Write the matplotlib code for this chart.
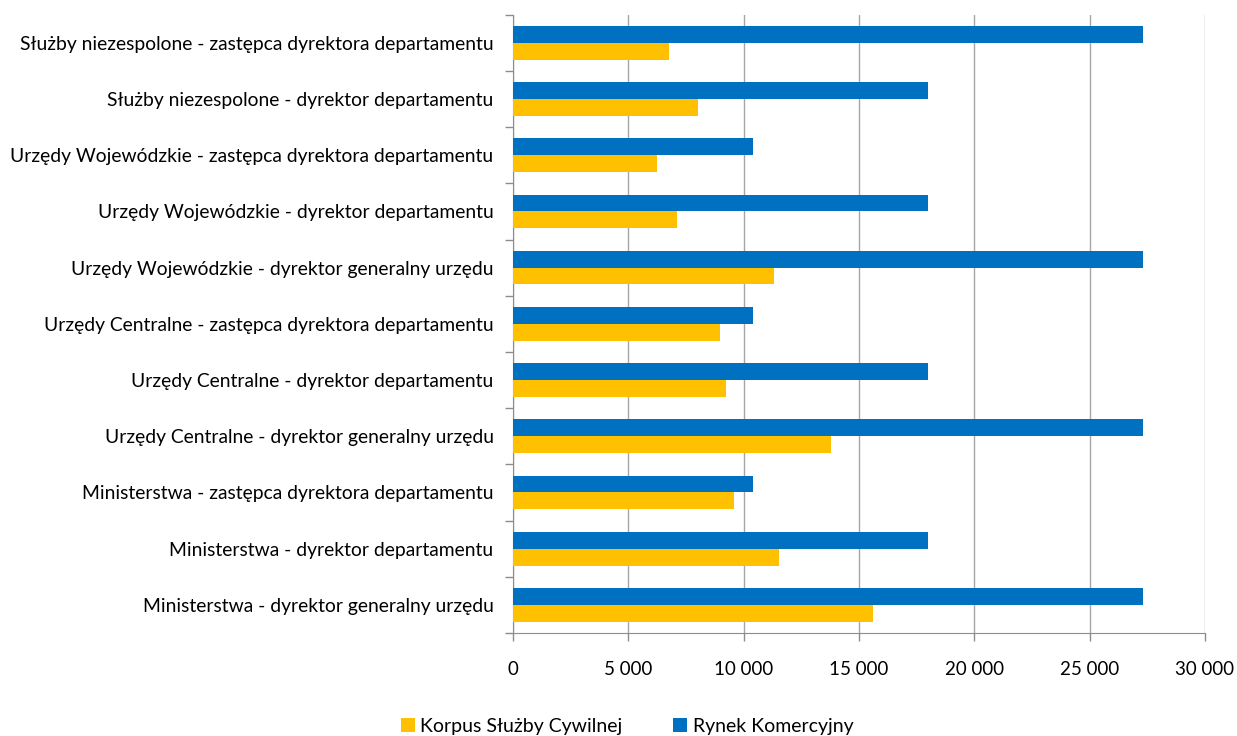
import numpy as np
import matplotlib.pyplot as plt
from matplotlib.ticker import FuncFormatter, FixedLocator

# categories from top to bottom, as in the chart
categories = [
    'Służby niezespolone - zastępca dyrektora departamentu',
    'Służby niezespolone - dyrektor departamentu',
    'Urzędy Wojewódzkie - zastępca dyrektora departamentu',
    'Urzędy Wojewódzkie - dyrektor departamentu',
    'Urzędy Wojewódzkie - dyrektor generalny urzędu',
    'Urzędy Centralne - zastępca dyrektora departamentu',
    'Urzędy Centralne - dyrektor departamentu',
    'Urzędy Centralne - dyrektor generalny urzędu',
    'Ministerstwa - zastępca dyrektora departamentu',
    'Ministerstwa - dyrektor departamentu',
    'Ministerstwa - dyrektor generalny urzędu',
]
korpus = [6770, 8020, 6240, 7110, 11320, 8980, 9240, 13790, 9580, 11540, 15610]
rynek = [27300, 18000, 10400, 18000, 27300, 10400, 18000, 27300, 10400, 18000, 27300]

plt.rcParams['font.family'] = ['Lato', 'DejaVu Sans']

fig = plt.figure(figsize=(12.37, 7.36), dpi=100)
ax = fig.add_axes([0.4147, 0.140, 0.5594, 0.840])

y = np.arange(len(categories))
h = 0.30
ax.barh(y - h / 2, rynek, height=h, color='#0070C0', label='Rynek Komercyjny', zorder=3)
ax.barh(y + h / 2, korpus, height=h, color='#FFC000', label='Korpus Służby Cywilnej', zorder=3)

ax.set_ylim(len(categories) - 0.5, -0.5)
ax.set_xlim(0, 30000)
ax.set_xticks(range(0, 30001, 5000))
ax.xaxis.set_major_formatter(FuncFormatter(lambda v, p: f'{int(v):,}'.replace(',', ' ')))

ax.set_yticks(y)
ax.set_yticklabels(categories)
ax.yaxis.set_minor_locator(FixedLocator(np.arange(-0.5, len(categories), 1)))
ax.tick_params(axis='y', which='major', length=0, pad=14, labelsize=13.9, colors='#000000')
ax.tick_params(axis='y', which='minor', length=6, width=1, color='#8c8c8c', direction='out')
ax.tick_params(axis='x', length=6, width=1, color='#8c8c8c', labelsize=13.5, pad=14)

ax.grid(axis='x', color='#a6a6a6', linewidth=1, zorder=0)
for s in ['top', 'right']:
    ax.spines[s].set_visible(False)
ax.spines['left'].set_color('#8c8c8c')
ax.spines['bottom'].set_color('#8c8c8c')

handles, labels = ax.get_legend_handles_labels()
fig.legend(handles[::-1], labels[::-1], loc='lower center', bbox_to_anchor=(0.507, -0.022),
           ncol=2, frameon=False, fontsize=14, handlelength=0.7, handleheight=0.7,
           handletextpad=0.3, columnspacing=2.6)

fig.savefig('out.png', dpi=100)
